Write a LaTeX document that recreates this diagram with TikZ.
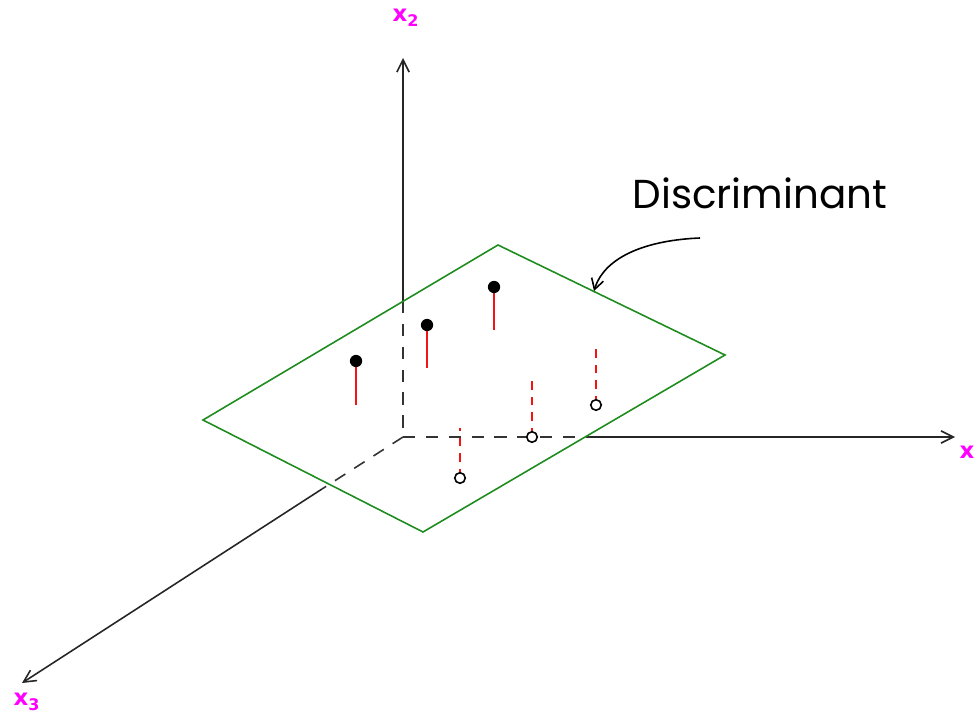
\documentclass[tikz,border=0pt]{standalone}
\usepackage{fontspec}
\setmainfont{Poppins}
\setsansfont{DejaVu Sans}
\definecolor{axislabel}{RGB}{255,0,255}
\definecolor{planegreen}{RGB}{30,140,30}
\definecolor{stemred}{RGB}{240,20,20}
\usetikzlibrary{arrows.meta}
\tikzset{
  axis/.style={line width=0.9pt, black!85, -{Straight Barb[length=7pt,width=7pt]}},
  hidden/.style={line width=0.9pt, black!80, dash pattern=on 7pt off 6pt},
  axislabel/.style={text=axislabel, font=\sffamily\bfseries\fontsize{13}{13}\selectfont},
  stem/.style={stemred, line width=1.1pt},
  dashstem/.style={stemred, line width=1.1pt, dash pattern=on 5pt off 4pt},
  filledpt/.style={circle, fill=black, inner sep=0pt, minimum size=7pt},
  openpt/.style={circle, draw=black, line width=0.9pt, fill=white, inner sep=0pt, minimum size=6pt}
}
\begin{document}
\begin{tikzpicture}[x=0.02cm, y=-0.02cm]
  \useasboundingbox (0,0) rectangle (979,715);
  % Origin and axis ends
  \coordinate (O) at (403,437);
  \coordinate (x1end) at (955,437);
  \coordinate (x2end) at (403,58);
  \coordinate (x3end) at (22,683);
  % where the axes leave the plane
  \coordinate (x1cut) at (590,437);
  \coordinate (x2cut) at (403,301);
  \coordinate (x3cut) at (322,489);
  % Discriminant plane
  \coordinate (pl) at (203,420);
  \coordinate (pt) at (498,245);
  \coordinate (pr) at (725,355);
  \coordinate (pb) at (423,532);
  \fill[white] (pl) -- (pt) -- (pr) -- (pb) -- cycle;
  % Hidden parts of the axes
  \draw[hidden] (x2cut) -- (O);
  \draw[hidden] (O) -- (x1cut);
  \draw[hidden] (O) -- (x3cut);
  % Visible parts of the axes
  \draw[axis] (x1cut) -- (x1end);
  \draw[axis] (x2cut) -- (x2end);
  \draw[axis] (x3cut) -- (x3end);
  \draw[planegreen, line width=0.9pt] (pl) -- (pt) -- (pr) -- (pb) -- cycle;
  % Axis labels
  \node[axislabel] (labx1) at (967,452) {x};
  \node[axislabel] (labx2) at (406,18) {x\textsubscript{2}};
  \node[axislabel] (labx3) at (27,702) {x\textsubscript{3}};
  % Points above the plane
  \foreach \px/\py/\ly [count=\i] in {356/361/405, 427/325/368, 494/287/330}{
    \draw[stem] (\px,\py) -- (\px,\ly);
    \node[filledpt] (up\i) at (\px,\py) {};
  }
  % Points below the plane
  \foreach \px/\py/\ly [count=\i] in {460/478/428, 532/437/378, 596/405/342}{
    \draw[dashstem] (\px,\py) -- (\px,\ly);
    \node[openpt] (dn\i) at (\px,\py) {};
  }
  % Label and pointer
  \node[font=\fontsize{23}{28}\selectfont] (disc) at (760,193) {Discriminant};
  \coordinate (tail) at (700,238);
  \coordinate (hit) at (594,291);
  \draw[line width=0.9pt, -{Straight Barb[length=6pt,width=7pt]}] (tail) .. controls (650,240) and (605,255) .. (hit);
\end{tikzpicture}
\end{document}
